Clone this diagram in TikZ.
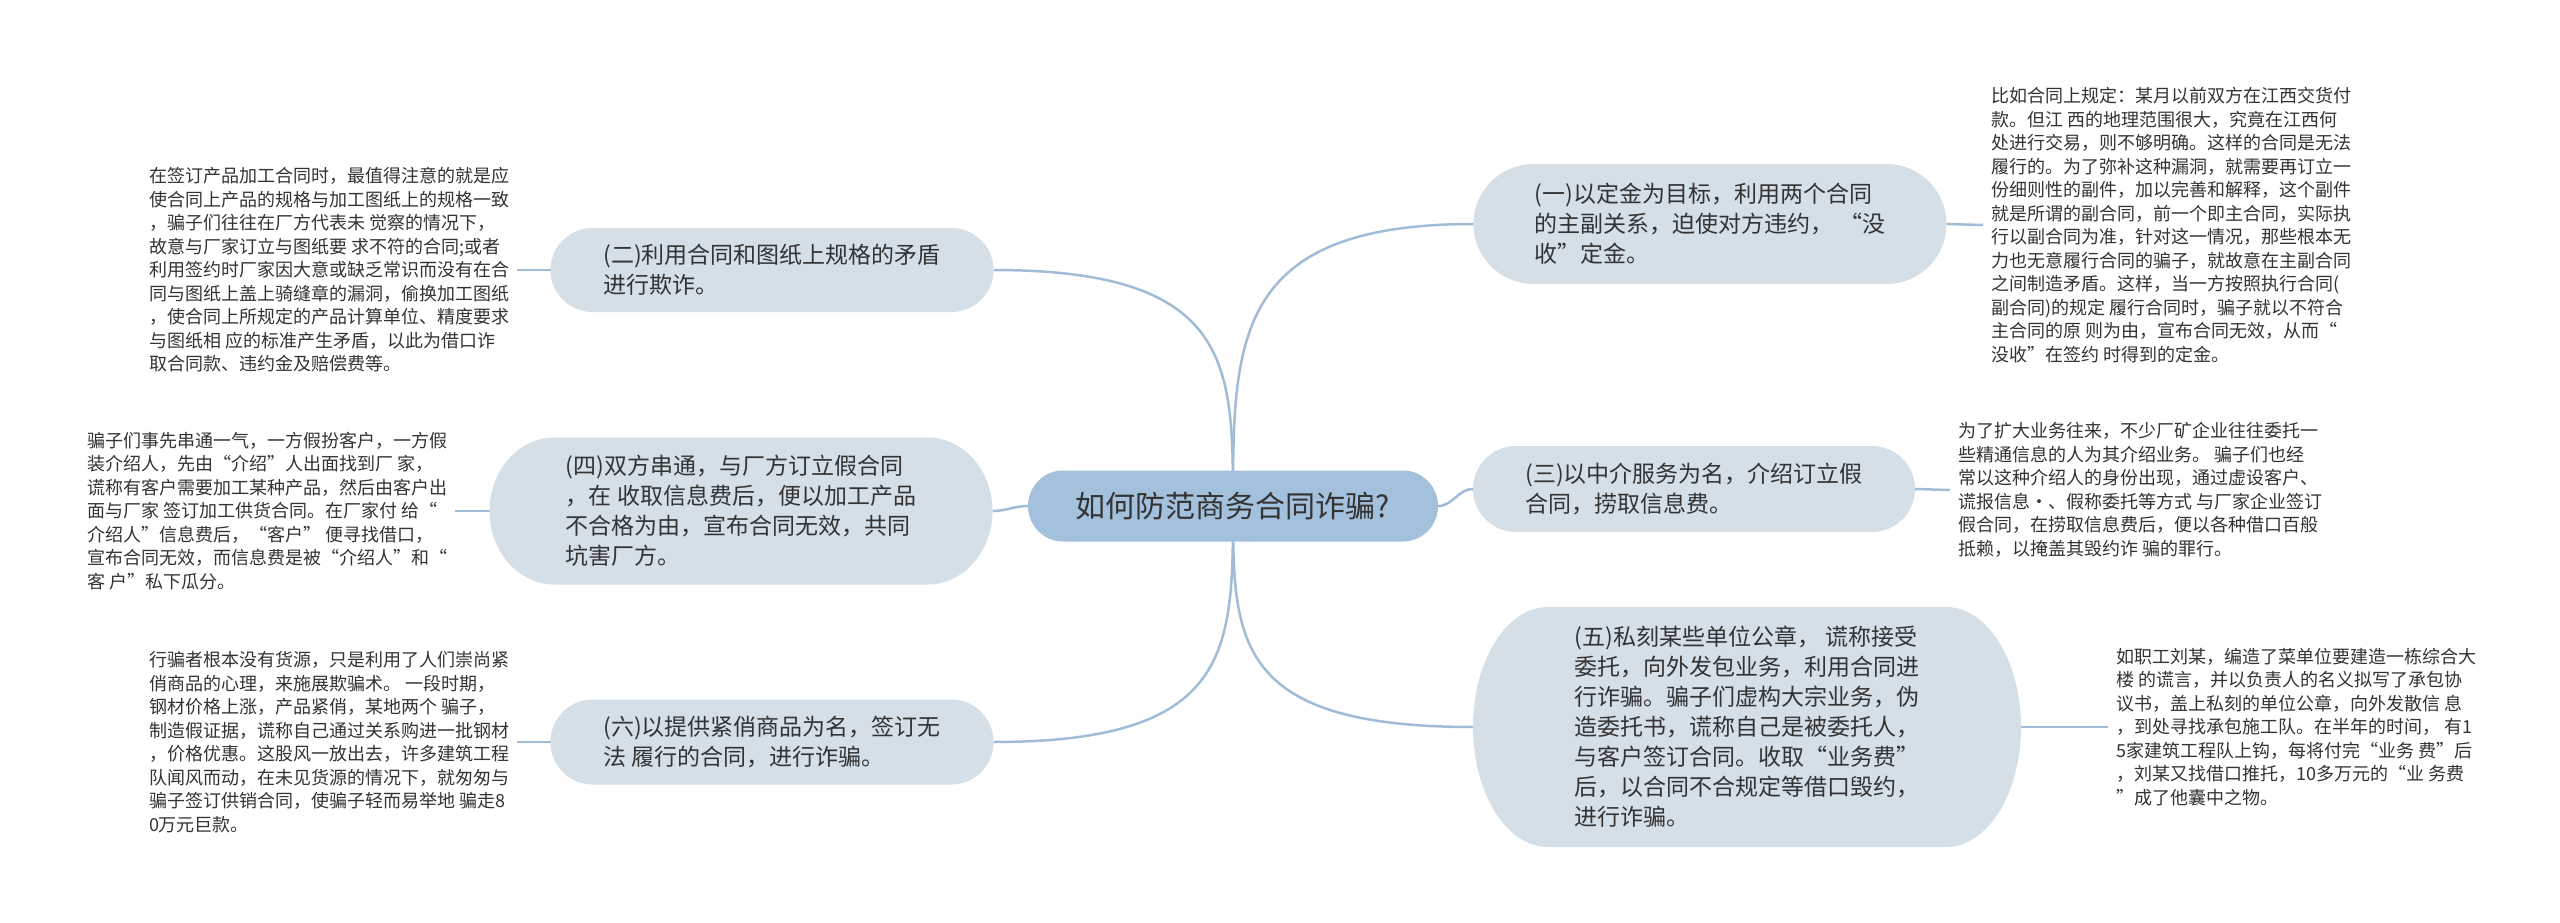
\documentclass[tikz,border=0pt]{standalone}
\usepackage{fontspec}
\setmainfont{Noto Sans CJK SC}
\usetikzlibrary{backgrounds}
\definecolor{linec}{RGB}{160,188,214}
\definecolor{bfill}{RGB}{212,223,232}
\definecolor{rfill}{RGB}{163,192,220}
\definecolor{txt}{RGB}{51,51,51}
\newcommand{\pillbg}[4]{%
  \fill[#4] ([xshift=#2]#1.north west) -- ([xshift=-#2]#1.north east)
    arc[start angle=90,end angle=-90,x radius=#2,y radius=#3]
    -- ([xshift=#2]#1.south west)
    arc[start angle=270,end angle=90,x radius=#2,y radius=#3] -- cycle;}
\tikzset{
  branch/.style={inner sep=0pt, outer sep=0pt, text=txt, align=left, font=\fontsize{23}{30}\selectfont},
  rootnode/.style={inner sep=0pt, outer sep=0pt, text=txt, align=center, font=\fontsize{30}{36}\selectfont},
  leaf/.style={inner ysep=0pt, inner xsep=8pt, outer sep=0pt, text=txt, align=left, font=\fontsize{18}{23.5}\selectfont},
  conn/.style={draw=linec, line width=2.5pt},
}
\begin{document}
\begin{tikzpicture}[x=1pt,y=-1pt]
\useasboundingbox (0,0) rectangle (2560,923);
% central and branch nodes
\node[rootnode, minimum width=410pt, minimum height=71pt] (root) at (1233,506) {如何防范商务合同诈骗?};
\node[branch, minimum width=473pt, minimum height=120pt] (b1) at (1710,224) {(一)以定金为目标，利用两个合同\\的主副关系，迫使对方违约， “没\\收”定金。};
\node[branch, minimum width=443pt, minimum height=84pt] (b2) at (772,270) {(二)利用合同和图纸上规格的矛盾\\进行欺诈。};
\node[branch, minimum width=442pt, minimum height=86pt] (b3) at (1694,489) {(三)以中介服务为名，介绍订立假\\合同，捞取信息费。};
\node[branch, minimum width=503pt, minimum height=147pt] (b4) at (741,511) {(四)双方串通，与厂方订立假合同\\，在 收取信息费后，便以加工产品\\不合格为由，宣布合同无效，共同\\坑害厂方。};
\node[branch, minimum width=548pt, minimum height=240pt] (b5) at (1747,727) {(五)私刻某些单位公章， 谎称接受\\委托，向外发包业务，利用合同进\\行诈骗。骗子们虚构大宗业务，伪\\造委托书，谎称自己是被委托人，\\与客户签订合同。收取“业务费”\\后，以合同不合规定等借口毁约，\\进行诈骗。};
\node[branch, minimum width=443pt, minimum height=85pt] (b6) at (772,742) {(六)以提供紧俏商品为名，签订无\\法 履行的合同，进行诈骗。};
% leaves
\node[leaf, anchor=west] (l1) at (1983,225) {比如合同上规定：某月以前双方在江西交货付\\
款。但江 西的地理范围很大，究竟在江西何\\
处进行交易，则不够明确。这样的合同是无法\\
履行的。为了弥补这种漏洞，就需要再订立一\\
份细则性的副件，加以完善和解释，这个副件\\
就是所谓的副合同，前一个即主合同，实际执\\
行以副合同为准，针对这一情况，那些根本无\\
力也无意履行合同的骗子，就故意在主副合同\\
之间制造矛盾。这样，当一方按照执行合同(\\
副合同)的规定 履行合同时，骗子就以不符合\\
主合同的原 则为由，宣布合同无效，从而“\\
没收”在签约 时得到的定金。};
\node[leaf, anchor=east] (l2) at (517,270) {在签订产品加工合同时，最值得注意的就是应\\
使合同上产品的规格与加工图纸上的规格一致\\
，骗子们往往在厂方代表未 觉察的情况下，\\
故意与厂家订立与图纸要 求不符的合同;或者\\
利用签约时厂家因大意或缺乏常识而没有在合\\
同与图纸上盖上骑缝章的漏洞，偷换加工图纸\\
，使合同上所规定的产品计算单位、精度要求\\
与图纸相 应的标准产生矛盾，以此为借口诈\\
取合同款、违约金及赔偿费等。};
\node[leaf, anchor=west] (l3) at (1950,490) {为了扩大业务往来，不少厂矿企业往往委托一\\
些精通信息的人为其介绍业务。 骗子们也经\\
常以这种介绍人的身份出现，通过虚设客户、\\
谎报信息·、假称委托等方式 与厂家企业签订\\
假合同，在捞取信息费后，便以各种借口百般\\
抵赖，以掩盖其毁约诈 骗的罪行。};
\node[leaf, anchor=east] (l4) at (455,511) {骗子们事先串通一气，一方假扮客户，一方假\\
装介绍人，先由“介绍”人出面找到厂 家，\\
谎称有客户需要加工某种产品，然后由客户出\\
面与厂家 签订加工供货合同。在厂家付 给“\\
介绍人”信息费后，“客户” 便寻找借口，\\
宣布合同无效，而信息费是被“介绍人”和“\\
客 户”私下瓜分。};
\node[leaf, anchor=west] (l5) at (2108,727) {如职工刘某，编造了菜单位要建造一栋综合大\\
楼 的谎言，并以负责人的名义拟写了承包协\\
议书，盖上私刻的单位公章，向外发散信 息\\
，到处寻找承包施工队。在半年的时间， 有1\\
5家建筑工程队上钩，每将付完“业务 费”后\\
，刘某又找借口推托，10多万元的“业 务费\\
”成了他囊中之物。};
\node[leaf, anchor=east] (l6) at (517,742) {行骗者根本没有货源，只是利用了人们崇尚紧\\
俏商品的心理，来施展欺骗术。 一段时期，\\
钢材价格上涨，产品紧俏，某地两个 骗子，\\
制造假证据，谎称自己通过关系购进一批钢材\\
，价格优惠。这股风一放出去，许多建筑工程\\
队闻风而动，在未见货源的情况下，就匆匆与\\
骗子签订供销合同，使骗子轻而易举地 骗走8\\
0万元巨款。};
\begin{scope}[on background layer]
  \fill[white] (0,0) rectangle (2560,923);
  % connectors
  \draw[conn] (root.center) .. controls (1233,340) and (1233,224) .. (b1.west);
  \draw[conn] (root.center) .. controls (1233,365) and (1233,270) .. (b2.east);
  \draw[conn] (root.east) to[out=0,in=180] (b3.west);
  \draw[conn] (root.west) to[out=180,in=0] (b4.east);
  \draw[conn] (root.center) .. controls (1233,640) and (1233,727) .. (b5.west);
  \draw[conn] (root.center) .. controls (1233,650) and (1233,742) .. (b6.east);
  \draw[conn] (b1.east) -- (l1.west);
  \draw[conn] (b2.west) -- (l2.east);
  \draw[conn] (b3.east) -- (l3.west);
  \draw[conn] (b4.west) -- (l4.east);
  \draw[conn] (b5.east) -- (l5.west);
  \draw[conn] (b6.west) -- (l6.east);
  % node backgrounds
  \pillbg{root}{35pt}{35.5pt}{rfill}
  \pillbg{b1}{60pt}{60pt}{bfill}
  \pillbg{b2}{42pt}{42pt}{bfill}
  \pillbg{b3}{43pt}{43pt}{bfill}
  \pillbg{b4}{65pt}{73.5pt}{bfill}
  \pillbg{b5}{75pt}{120pt}{bfill}
  \pillbg{b6}{42pt}{42.5pt}{bfill}
\end{scope}
\end{tikzpicture}
\end{document}
